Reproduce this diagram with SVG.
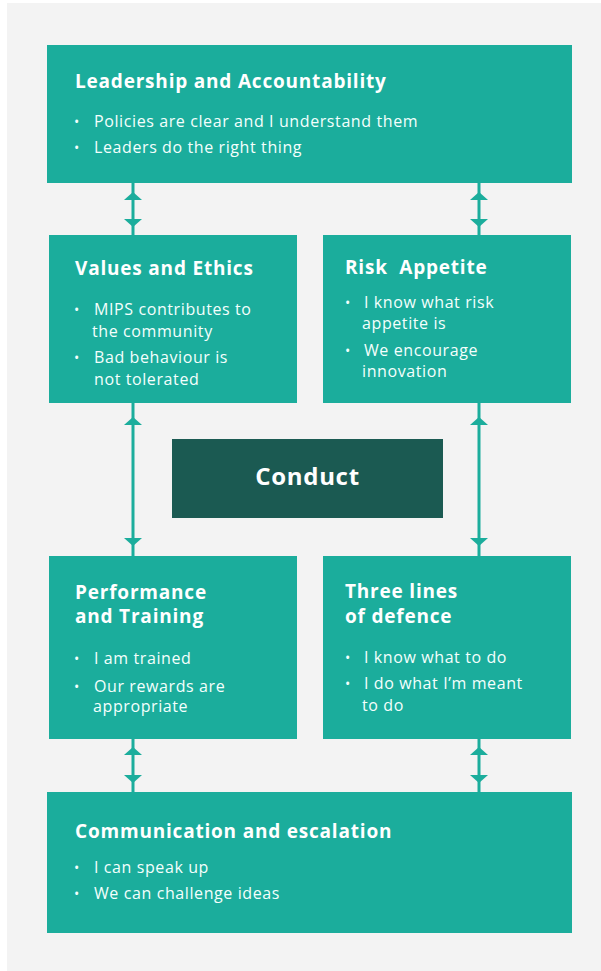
<svg xmlns="http://www.w3.org/2000/svg" xmlns:xlink="http://www.w3.org/1999/xlink" width="601" height="971" viewBox="0 0 601 971">
  <defs>
    <style>
      .panel { fill: #f3f3f3; }
      .box { fill: #1bad9c; }
      .core { fill: #1b5a52; }
      .title { font-family: "Open Sans", "Liberation Sans", sans-serif; font-weight: 700; font-size: 19px; letter-spacing: 0.8px; fill: #ffffff; white-space: pre; }
      .item { font-family: "Open Sans", "Liberation Sans", sans-serif; font-weight: 400; font-size: 16px; letter-spacing: 0.6px; fill: #f4fffd; }
      .dot { font-family: "Open Sans", "Liberation Sans", sans-serif; font-size: 14px; fill: #f4fffd; }
      .center { font-family: "Open Sans", "Liberation Sans", sans-serif; font-weight: 700; font-size: 24px; letter-spacing: 0.7px; fill: #ffffff; text-anchor: middle; }
      .link { stroke: #1bad9c; stroke-width: 3; fill: none; }
      .head { fill: #1bad9c; }
    </style>
    <!-- arrowhead pointing up, tip at origin -->
    <path id="tipUp" d="M0 0 L9 8 L-9 8 Z"/>
    <!-- arrowhead pointing down, tip at origin -->
    <path id="tipDown" d="M0 0 L9 -8 L-9 -8 Z"/>
  </defs>

  <rect class="panel" x="7" y="3" width="594" height="968"/>

  <g id="leadership">
    <rect class="box" x="47" y="45" width="525" height="138"/>
    <text class="title" x="75" y="88">Leadership and Accountability</text>
    <text class="dot" x="74" y="127">•</text>
    <text class="item" x="94" y="127">Policies are clear and I understand them</text>
    <text class="dot" x="74" y="153">•</text>
    <text class="item" x="94" y="153">Leaders do the right thing</text>
  </g>

  <g id="values">
    <rect class="box" x="49" y="235" width="248" height="168"/>
    <text class="title" x="75" y="275">Values and Ethics</text>
    <text class="dot" x="74" y="315">•</text>
    <text class="item" x="94" y="315">MIPS contributes to</text>
    <text class="item" x="92" y="337">the community</text>
    <text class="dot" x="74" y="363">•</text>
    <text class="item" x="94" y="363">Bad behaviour is</text>
    <text class="item" x="94" y="385">not tolerated</text>
  </g>

  <g id="risk">
    <rect class="box" x="323" y="235" width="248" height="168"/>
    <text class="title" x="345" y="274">Risk  Appetite</text>
    <text class="dot" x="345" y="308">•</text>
    <text class="item" x="364" y="308">I know what risk</text>
    <text class="item" x="362" y="329">appetite is</text>
    <text class="dot" x="345" y="356">•</text>
    <text class="item" x="364" y="356">We encourage</text>
    <text class="item" x="362" y="377">innovation</text>
  </g>

  <g id="conduct">
    <rect class="core" x="172" y="439" width="271" height="79"/>
    <text class="center" x="307.5" y="485">Conduct</text>
  </g>

  <g id="performance">
    <rect class="box" x="49" y="556" width="248" height="183"/>
    <text class="title" x="75" y="599">Performance</text>
    <text class="title" x="75" y="623">and Training</text>
    <text class="dot" x="74" y="664">•</text>
    <text class="item" x="94" y="664">I am trained</text>
    <text class="dot" x="74" y="692">•</text>
    <text class="item" x="94" y="692">Our rewards are</text>
    <text class="item" x="93" y="712">appropriate</text>
  </g>

  <g id="defence">
    <rect class="box" x="323" y="556" width="248" height="183"/>
    <text class="title" x="345" y="598">Three lines</text>
    <text class="title" x="345" y="623">of defence</text>
    <text class="dot" x="345" y="663">•</text>
    <text class="item" x="364" y="663">I know what to do</text>
    <text class="dot" x="345" y="689">•</text>
    <text class="item" x="364" y="689">I do what I’m meant</text>
    <text class="item" x="362" y="711">to do</text>
  </g>

  <g id="communication">
    <rect class="box" x="47" y="792" width="525" height="141"/>
    <text class="title" x="75" y="838">Communication and escalation</text>
    <text class="dot" x="74" y="873">•</text>
    <text class="item" x="94" y="873">I can speak up</text>
    <text class="dot" x="74" y="899">•</text>
    <text class="item" x="94" y="899">We can challenge ideas</text>
  </g>

  <g id="connectors">
    <!-- two-way links between stacked boxes -->
    <path class="link" d="M133 183 V235"/>
    <path class="link" d="M479 183 V235"/>
    <path class="link" d="M133 403 V556"/>
    <path class="link" d="M479 403 V556"/>
    <path class="link" d="M133 739 V792"/>
    <path class="link" d="M479 739 V792"/>
    <g class="head">
      <use xlink:href="#tipUp" x="133" y="192"/>
      <use xlink:href="#tipDown" x="133" y="227"/>
      <use xlink:href="#tipUp" x="479" y="192"/>
      <use xlink:href="#tipDown" x="479" y="227"/>
      <use xlink:href="#tipUp" x="133" y="417"/>
      <use xlink:href="#tipDown" x="133" y="546"/>
      <use xlink:href="#tipUp" x="479" y="417"/>
      <use xlink:href="#tipDown" x="479" y="546"/>
      <use xlink:href="#tipUp" x="133" y="747"/>
      <use xlink:href="#tipDown" x="133" y="783"/>
      <use xlink:href="#tipUp" x="479" y="747"/>
      <use xlink:href="#tipDown" x="479" y="783"/>
    </g>
  </g>
</svg>
